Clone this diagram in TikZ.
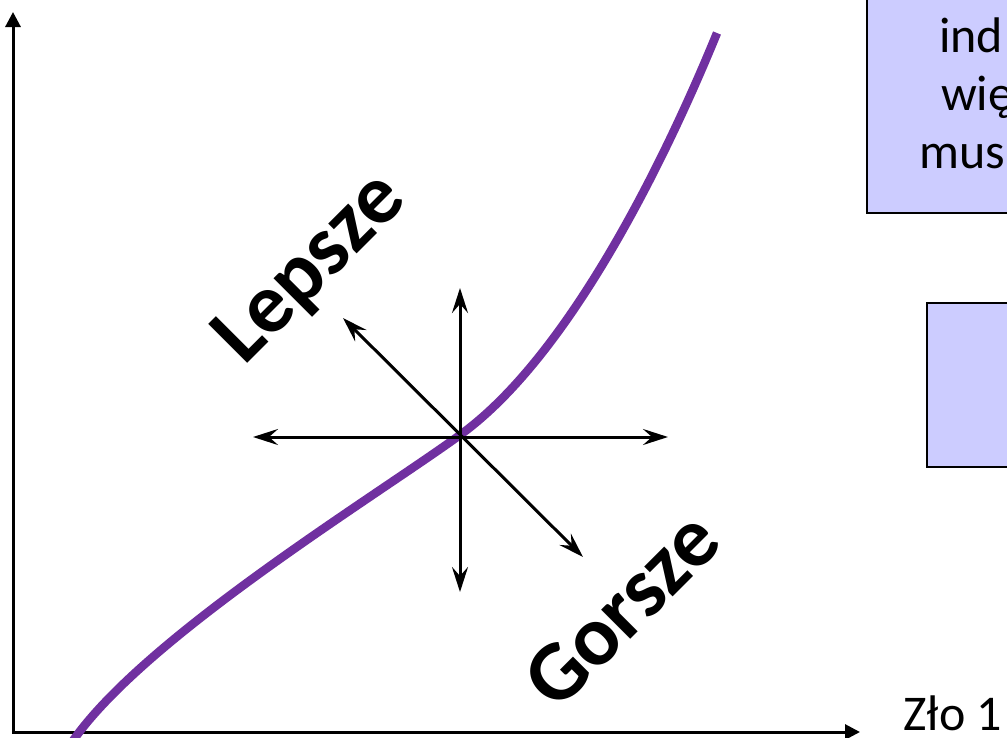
\documentclass[tikz,border=0pt]{standalone}
\usepackage{fontspec}
\setmainfont{Carlito}
\usetikzlibrary{arrows.meta}
\definecolor{curvepurple}{HTML}{7030A0}
\definecolor{boxfill}{HTML}{CCCCFF}
\begin{document}
\begin{tikzpicture}[x=1pt,y=-1pt,
  axis/.style={line width=3pt, line join=miter, {Triangle[length=15pt,width=15pt]}-{Triangle[length=15pt,width=15pt]}},
  stararrow/.style={line width=3pt, {Stealth[length=25pt,width=16pt,inset=9pt]}-{Stealth[length=25pt,width=16pt,inset=9pt]}},
  bluebox/.style={draw=black, line width=2.5pt, fill=boxfill},
  boxtext/.style={font=\fontsize{50}{60}\selectfont, anchor=base west, inner sep=0pt},
  bigword/.style={font=\fontsize{85}{100}\selectfont\bfseries, anchor=base west, inner sep=0pt, rotate=45},
  curve/.style={draw=curvepurple, line width=8.5pt}
]
\useasboundingbox (0,0) rectangle (1007,737);
\clip (0,0) rectangle (1007,737);
% boxes
\draw[bluebox] (867,-10) rectangle (1030,213);
\draw[bluebox] (927,303) rectangle (1030,467);
\node[boxtext] (t1) at (939,52) {ind};
\node[boxtext] (t2) at (941,110) {wię};
\node[boxtext] (t3) at (919,168) {mus};
\node[boxtext] (zlo) at (903,730) {Zło 1};
% axes
\coordinate (ytop) at (13,12);
\coordinate (orig) at (13,732);
\coordinate (xend) at (860,732);
\draw[axis] (ytop) -- (orig) -- (xend);
% curve
\coordinate (cstart) at (70,745);
\coordinate (cmid) at (460,435);
\coordinate (cend) at (717,33);
\draw[curve] (cstart) .. controls (140,640) and (370,500) .. (cmid)
  .. controls (568,357) and (663,165) .. (cend);
% star
\coordinate (sl) at (253,437);
\coordinate (sr) at (668,437);
\coordinate (st) at (460,288);
\coordinate (sb) at (460,592);
\coordinate (sul) at (343,318);
\coordinate (sdr) at (583,557);
\draw[stararrow] (sl) -- (sr);
\draw[stararrow] (st) -- (sb);
\draw[stararrow] (sul) -- (sdr);
% words
\node[bigword] (lepsze) at (244,367) {Lepsze};
\node[bigword] (gorsze) at (557,713) {Gorsze};
\end{tikzpicture}
\end{document}
